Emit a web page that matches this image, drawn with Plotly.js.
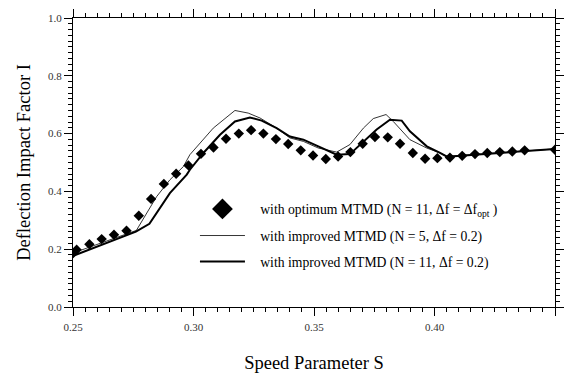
<!DOCTYPE html>
<html>
<head>
<meta charset="utf-8">
<script src="https://cdn.plot.ly/plotly-3.0.1.min.js"></script>
<style>html,body{margin:0;padding:0;background:#fff;}#chart{width:565px;height:374px;}</style>
</head>
<body>
<div id="chart"></div>
<script>
// Optimum MTMD (N = 11, Δf = Δf_opt) — diamonds
const optS = [0.2501,0.2515,0.2568,0.2619,0.2670,0.2722,0.2773,0.2824,0.2877,0.2928,0.2979,0.3031,0.3083,0.3135,0.3188,0.3239,0.3290,0.3342,0.3393,0.3445,0.3496,0.3549,0.3600,0.3651,0.3702,0.3753,0.3806,0.3857,0.3910,0.3961,0.4012,0.4064,0.4115,0.4168,0.4219,0.4271,0.4323,0.4374,0.4500];
const optI = [0.187,0.198,0.217,0.235,0.250,0.264,0.316,0.374,0.426,0.461,0.490,0.530,0.552,0.582,0.600,0.612,0.600,0.581,0.564,0.542,0.524,0.512,0.521,0.536,0.565,0.588,0.587,0.565,0.533,0.513,0.515,0.517,0.523,0.529,0.533,0.536,0.538,0.542,0.544];

// Improved MTMD (N = 5, Δf = 0.2) — thin line
const n5S = [0.2501,0.2763,0.2847,0.2902,0.2958,0.2985,0.3082,0.3172,0.3227,0.3276,0.3345,0.3400,0.3456,0.3518,0.3594,0.3649,0.3705,0.3746,0.3799,0.3829,0.3898,0.3968,0.4023,0.4052,0.4500];
const n5I = [0.187,0.265,0.382,0.440,0.486,0.527,0.619,0.680,0.671,0.654,0.619,0.585,0.573,0.550,0.536,0.562,0.619,0.652,0.666,0.642,0.579,0.550,0.533,0.521,0.547];

// Improved MTMD (N = 11, Δf = 0.2) — thick line
const n11S = [0.2501,0.2761,0.2817,0.2902,0.2972,0.2985,0.3041,0.3110,0.3172,0.3234,0.3283,0.3345,0.3400,0.3456,0.3518,0.3594,0.3649,0.3705,0.3760,0.3815,0.3864,0.3898,0.3968,0.4023,0.4052,0.4500];
const n11I = [0.177,0.261,0.288,0.394,0.458,0.475,0.533,0.596,0.642,0.656,0.645,0.619,0.590,0.579,0.556,0.527,0.529,0.573,0.614,0.648,0.645,0.608,0.556,0.533,0.520,0.547];

const legendNames = [
  '\u00a0\u00a0\u00a0with optimum MTMD (N = 11, Δf = Δf<sub>opt</sub> )',
  '\u00a0\u00a0\u00a0with improved MTMD (N = 5, Δf = 0.2)',
  '\u00a0\u00a0\u00a0with improved MTMD (N = 11, Δf = 0.2)'
];

const serif = 'Liberation Serif, Times New Roman, serif';

const traces = [
  {x: optS, y: optI, mode: 'markers', type: 'scatter', showlegend: false,
   marker: {symbol: 'diamond', size: 8, color: '#000'}},
  {x: [null], y: [null], mode: 'markers', type: 'scatter', name: legendNames[0], legend: 'legend',
   marker: {symbol: 'diamond', size: 16, color: '#000'}},
  {x: n5S, y: n5I, mode: 'lines', type: 'scatter', name: legendNames[1], legend: 'legend2',
   line: {color: '#000', width: 0.8}},
  {x: n11S, y: n11I, mode: 'lines', type: 'scatter', name: legendNames[2], legend: 'legend3',
   line: {color: '#000', width: 2}}
];

const legBase = {xanchor: 'left', yanchor: 'middle', bgcolor: 'rgba(0,0,0,0)', borderwidth: 0,
  font: {family: serif, size: 13.7, color: '#000'}, itemwidth: 45, tracegroupgap: 0};

const axisCommon = {
  showline: true, linecolor: '#000', linewidth: 1, mirror: 'allticks',
  ticks: 'outside', ticklen: 8, tickwidth: 1, tickcolor: '#000',
  showgrid: false, zeroline: false,
  tickfont: {family: serif, size: 11, color: '#333'}
};

const layout = {
  width: 565, height: 374,
  margin: {l: 73, r: 10, t: 18, b: 67},
  paper_bgcolor: '#fff', plot_bgcolor: '#fff',
  xaxis: Object.assign({}, axisCommon, {
    range: [0.25, 0.45], tickvals: [0.25,0.30,0.35,0.40,0.45], ticktext: ['0.25','0.30','0.35','0.40','0.45'],
    ticklabelstandoff: 2,
    minor: {dtick: 0.005, tick0: 0.25, ticks: 'outside', ticklen: 4, tickcolor: '#000', tickwidth: 1, showgrid: false},
    title: {text: 'Speed Parameter S', font: {family: serif, size: 18.5, color: '#000'}, standoff: 23}
  }),
  yaxis: Object.assign({}, axisCommon, {
    range: [0, 1], tickvals: [0,0.2,0.4,0.6,0.8,1.0], ticktext: ['0.0','0.2','0.4','0.6','0.8','1.0'],
    minor: {dtick: 0.02, tick0: 0, ticks: 'outside', ticklen: 4, tickcolor: '#000', tickwidth: 1, showgrid: false},
    title: {text: 'Deflection Impact Factor I', font: {family: serif, size: 18.5, color: '#000'}, standoff: 12}
  }),
  legend: Object.assign({}, legBase, {x: 0.253, y: 0.339}),
  legend2: Object.assign({}, legBase, {x: 0.253, y: 0.247}),
  legend3: Object.assign({}, legBase, {x: 0.253, y: 0.157})
};

Plotly.newPlot('chart', traces, layout, {displayModeBar: false, staticPlot: true});
</script>
</body>
</html>
